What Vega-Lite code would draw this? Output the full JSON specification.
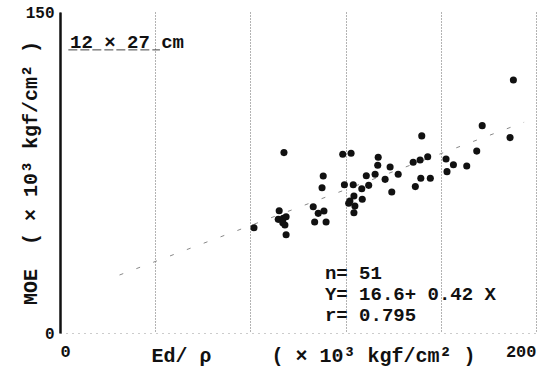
{
  "$schema": "https://vega.github.io/schema/vega-lite/v6.json",
  "width": 476,
  "height": 321,
  "autosize": {"type": "none"},
  "padding": {"left": 60, "top": 12, "right": 19, "bottom": 40},
  "background": "white",
  "config": {"view": {"stroke": null}, "font": "Liberation Mono"},
  "datasets": {
    "points": [
      {"ed": 190.5, "moe": 118.2}, {"ed": 177.4, "moe": 96.9}, {"ed": 189.1, "moe": 91.3},
      {"ed": 152.0, "moe": 92.1}, {"ed": 175.1, "moe": 85.0}, {"ed": 94.1, "moe": 84.3},
      {"ed": 118.8, "moe": 83.5}, {"ed": 122.3, "moe": 84.0}, {"ed": 133.7, "moe": 82.1},
      {"ed": 133.5, "moe": 78.4}, {"ed": 148.4, "moe": 79.8}, {"ed": 151.3, "moe": 80.8},
      {"ed": 154.5, "moe": 82.4}, {"ed": 162.2, "moe": 81.3}, {"ed": 165.3, "moe": 78.6},
      {"ed": 170.9, "moe": 78.0}, {"ed": 162.6, "moe": 75.4}, {"ed": 138.7, "moe": 77.6},
      {"ed": 142.1, "moe": 74.2}, {"ed": 132.4, "moe": 74.2}, {"ed": 128.7, "moe": 73.5},
      {"ed": 110.6, "moe": 73.4}, {"ed": 136.6, "moe": 71.8}, {"ed": 151.6, "moe": 72.3},
      {"ed": 155.6, "moe": 72.3}, {"ed": 110.1, "moe": 67.9}, {"ed": 119.5, "moe": 69.3},
      {"ed": 123.2, "moe": 69.3}, {"ed": 126.8, "moe": 67.4}, {"ed": 129.7, "moe": 69.0},
      {"ed": 149.3, "moe": 68.4}, {"ed": 139.4, "moe": 65.9}, {"ed": 123.5, "moe": 64.0},
      {"ed": 127.0, "moe": 62.5}, {"ed": 121.8, "moe": 61.7}, {"ed": 123.9, "moe": 59.3},
      {"ed": 123.5, "moe": 56.2}, {"ed": 106.4, "moe": 59.0}, {"ed": 110.9, "moe": 57.0},
      {"ed": 108.5, "moe": 55.9}, {"ed": 107.0, "moe": 51.9}, {"ed": 111.8, "moe": 51.9},
      {"ed": 92.1, "moe": 57.1}, {"ed": 91.7, "moe": 53.1}, {"ed": 93.8, "moe": 53.6},
      {"ed": 93.6, "moe": 51.5}, {"ed": 94.5, "moe": 50.5}, {"ed": 95.0, "moe": 45.9},
      {"ed": 81.5, "moe": 49.2}, {"ed": 95.0, "moe": 54.3}, {"ed": 121.3, "moe": 60.6}
    ],
    "fit": [{"ed": 25, "moe": 27.1}, {"ed": 195, "moe": 98.5}],
    "notes": [
      {"ed": 4.2, "moe": 136, "text": "12 × 27 cm"},
      {"ed": 111.3, "moe": 28.0, "text": "n= 51"},
      {"ed": 111.3, "moe": 18.2, "text": "Y= 16.6+ 0.42 X"},
      {"ed": 111.3, "moe": 8.4, "text": "r= 0.795"}
    ],
    "underline": [{"ed": 3.5, "ed2": 42, "moe": 132.3}]
  },
  "layer": [
    {
      "data": {"name": "fit"},
      "mark": {"type": "line", "color": "#888", "strokeWidth": 1, "strokeDash": [4, 14]},
      "encoding": {
        "x": {"field": "ed", "type": "quantitative"},
        "y": {"field": "moe", "type": "quantitative"}
      }
    },
    {
      "data": {"name": "points"},
      "mark": {"type": "circle", "size": 50, "color": "#111", "opacity": 1},
      "encoding": {
        "x": {
          "field": "ed", "type": "quantitative",
          "scale": {"domain": [0, 200], "nice": false, "zero": false},
          "axis": {
            "values": [0, 40, 80, 120, 160, 200],
            "labelExpr": "datum.value == 0 || datum.value == 200 ? datum.label : ''",
            "grid": true, "gridDash": [1, 2], "gridColor": "#666",
            "ticks": false,
            "domainColor": "#999", "domainDash": [1, 5],
            "labelFontSize": 17, "labelFont": "Liberation Mono", "labelFontWeight": "bold", "labelColor": "#111",
            "labelPadding": 10,
            "title": "Ed/ ρ\u00a0\u00a0\u00a0\u00a0\u00a0( × 10³ kgf/cm² )",
            "titleFontSize": 20, "titleFont": "Liberation Mono", "titleFontWeight": "bold", "titleColor": "#111",
            "titleX": 253, "titleY": 22, "titleBaseline": "middle", "titleAlign": "center"
          }
        },
        "y": {
          "field": "moe", "type": "quantitative",
          "scale": {"domain": [0, 150], "nice": false},
          "axis": {
            "values": [0, 150],
            "ticks": false, "grid": false,
            "domainColor": "#111", "domainWidth": 2.5,
            "labelFontSize": 16, "labelFont": "Liberation Mono", "labelFontWeight": "bold", "labelColor": "#111",
            "labelPadding": 6,
            "title": "MOE\u00a0\u00a0( × 10³ kgf/cm² )",
            "titleFontSize": 20, "titleFont": "Liberation Mono", "titleFontWeight": "bold", "titleColor": "#111",
            "titleAngle": 270, "titleX": -30, "titleY": 160.5, "titleAlign": "center", "titleBaseline": "middle"
          }
        }
      }
    },
    {
      "data": {"name": "notes"},
      "mark": {"type": "text", "align": "left", "baseline": "middle", "font": "Liberation Mono", "fontWeight": "bold", "fontSize": 19, "color": "#111"},
      "encoding": {
        "x": {"field": "ed", "type": "quantitative"},
        "y": {"field": "moe", "type": "quantitative"},
        "text": {"field": "text"}
      }
    },
    {
      "data": {"name": "underline"},
      "mark": {"type": "rule", "color": "#444", "strokeWidth": 1, "strokeDash": [9, 3]},
      "encoding": {
        "x": {"field": "ed", "type": "quantitative"},
        "x2": {"field": "ed2"},
        "y": {"field": "moe", "type": "quantitative"}
      }
    },
    {
      "mark": {"type": "rule", "color": "#111", "strokeWidth": 2.5},
      "encoding": {
        "x": {"datum": 200},
        "y": {"datum": -5},
        "y2": {"datum": 155.5}
      }
    }
  ]
}
